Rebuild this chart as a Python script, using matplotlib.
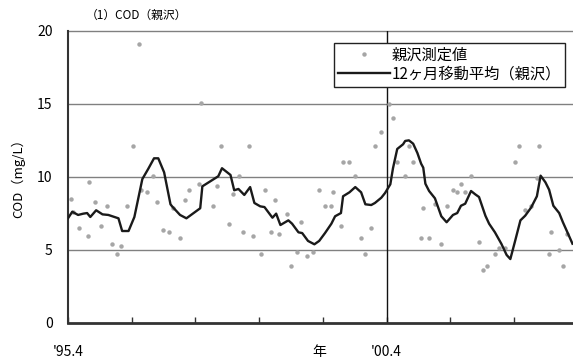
"""
COD (親沢) monthly values with 12-month moving average
"""
import matplotlib
matplotlib.use("Agg")
import matplotlib.pyplot as plt
import matplotlib.transforms as mtransforms

plt.rcParams['font.family'] = ['Noto Sans CJK JP', 'DejaVu Sans']

# months counted from '95.4
obs_month = [0.6, 1.0, 2.1, 3.7, 4.0, 5.1, 6.3, 7.4, 8.2, 9.3, 10.0, 11.2,
             12.3, 13.4, 13.8, 14.9, 16.1, 16.8, 17.9, 19.1, 19.8, 21.0, 22.1,
             22.8, 24.7, 25.1, 27.4, 28.1, 28.9, 30.4, 31.1, 32.2, 33.0, 34.1,
             34.9, 36.4, 37.1, 38.3, 39.0, 39.8, 41.3, 42.0, 43.2, 43.9, 45.1,
             46.2, 47.3, 48.4, 49.6, 49.9, 51.4, 51.8, 53.0, 54.1, 55.2, 56.0,
             57.1, 57.8, 59.0, 60.5, 61.2, 62.0, 63.5, 64.2, 65.0, 66.5, 66.9,
             68.0, 69.1, 70.3, 71.4, 72.5, 73.3, 74.0, 74.8, 75.9, 77.4, 78.2,
             78.9, 80.4, 81.2, 82.3, 84.2, 85.0, 86.1, 87.2, 88.3, 88.7, 90.6,
             91.0, 92.5, 93.2, 94.0]
obs_cod = [8.45, 7.6, 6.5, 5.96, 9.66, 8.3, 6.65, 8.0, 5.4, 4.73, 5.27, 8.0,
           12.1, 19.1, 9.1, 8.97, 10.07, 8.29, 6.37, 6.23, 7.88, 5.82, 8.42,
           9.11, 9.52, 15.03, 8.0, 9.38, 12.12, 6.78, 8.84, 10.07, 6.23, 12.1,
           5.96, 4.73, 9.11, 6.23, 8.42, 6.1, 7.47, 3.9, 4.86, 6.92, 4.59,
           4.86, 9.11, 8.0, 8.0, 8.97, 6.65, 11.03, 11.03, 10.07, 5.82, 4.73,
           6.51, 12.12, 13.08, 15.0, 14.04, 11.03, 10.07, 12.12, 11.03, 5.82,
           7.88, 5.82, 8.15, 5.41, 8.0, 9.11, 8.97, 9.52, 8.97, 10.07, 5.55,
           3.63, 3.9, 4.73, 5.14, 5.14, 11.03, 12.12, 7.74, 8.0, 9.93, 12.12,
           4.73, 6.23, 5.0, 3.9, 6.1]

ma_month = [0.0, 0.8, 1.9, 2.9, 3.6, 4.2, 5.3, 6.5, 7.6, 9.5, 10.2, 11.4,
            12.5, 14.0, 15.1, 16.2, 17.0, 18.1, 19.3, 19.6, 21.1, 22.3, 24.9,
            25.3, 28.3, 29.0, 30.6, 31.3, 32.1, 33.2, 34.3, 35.1, 36.2, 37.0,
            38.5, 39.2, 40.0, 41.5, 42.2, 43.4, 44.1, 45.2, 46.4, 47.3, 48.4,
            49.6, 50.3, 51.4, 51.8, 53.0, 54.1, 55.2, 56.0, 57.1, 57.8, 59.0,
            59.7, 60.7, 61.2, 62.0, 63.1, 63.5, 64.2, 65.0, 65.8, 66.5, 66.9,
            67.3, 68.0, 69.1, 70.3, 71.3, 72.5, 73.3, 74.0, 74.8, 75.9, 76.7,
            77.4, 78.6, 79.3, 80.4, 81.6, 82.6, 83.3, 84.2, 85.2, 86.1, 87.2,
            88.3, 89.0, 89.9, 90.6, 91.4, 92.5, 93.2, 94.0, 95.0]
ma_cod = [7.15, 7.6, 7.38, 7.47, 7.51, 7.24, 7.7, 7.42, 7.38, 7.15, 6.28, 6.28,
          7.24, 9.84, 10.53, 11.26, 11.26, 10.3, 8.11, 7.97, 7.38, 7.15, 7.84,
          9.34, 10.03, 10.58, 10.12, 9.07, 9.16, 8.75, 9.29, 8.2, 7.97, 7.92,
          7.19, 7.47, 6.69, 7.01, 6.78, 6.19, 6.14, 5.6, 5.37, 5.6, 6.14,
          6.78, 7.29, 7.51, 8.66, 8.93, 9.29, 8.93, 8.11, 8.06, 8.2, 8.56,
          8.88, 9.48, 10.58, 11.9, 12.22, 12.45, 12.49, 12.26, 11.62, 10.89,
          10.62, 9.52, 9.02, 8.52, 7.29, 6.88, 7.38, 7.51, 8.01, 8.15, 9.02,
          8.79, 8.61, 7.33, 6.78, 6.19, 5.41, 4.64, 4.36, 5.6, 7.01, 7.33,
          7.88, 8.66, 10.07, 9.62, 9.11, 8.01, 7.51, 6.88, 6.23, 5.41]

year_ticks = [0, 12, 24, 36, 48, 60, 72, 84]
label_pos = [0, 60]
label_txt = ["'95.4", "'00.4"]

fig = plt.figure(figsize=(5.73, 3.62), dpi=100)
ax = fig.add_axes([68 / 573, 1 - 322.7 / 362, 1 - 68 / 573, (322.7 - 30.7) / 362])

ax.set_xlim(0, 95.1)
ax.set_ylim(0, 20)
ax.set_yticks([0, 5, 10, 15, 20])
for yv in [5, 10, 15, 20]:
    ax.axhline(yv, color='#808080', lw=1.0, zorder=1, clip_on=False)
ax.axvline(60, color='#111111', lw=1.0, zorder=2)

ax.plot(obs_month, obs_cod, ls='none', marker='o', ms=3.2, mfc='#a6a6a6',
        mec='none', label='親沢測定値', zorder=3)
ax.plot(ma_month, ma_cod, color='#1a1a1a', lw=1.7,
        label='12ヶ月移動平均（親沢）', zorder=4)

for s in ['top', 'right']:
    ax.spines[s].set_visible(False)
ax.spines['left'].set_color('#333333')
ax.spines['left'].set_linewidth(1.5)
ax.spines['bottom'].set_color('#333333')
ax.spines['bottom'].set_linewidth(2.0)

ax.set_xticks(year_ticks)
ax.set_xticklabels([])
ax.tick_params(axis='x', direction='in', length=4, width=1, color='#333333')
ax.tick_params(axis='y', length=0, pad=11, labelsize=10)

trans = mtransforms.blended_transform_factory(ax.transData, ax.transAxes)
for p, t in zip(label_pos, label_txt):
    ax.text(p, -0.1, t, transform=trans, ha='center', va='center', fontsize=10)
ax.text(47.4, -0.1, '年', transform=trans, ha='center', va='center', fontsize=10)

fig.text(136 / 573, 1 - 15 / 362, '（1）COD（親沢）', ha='center', va='center',
         fontsize=8.5)
fig.text(18 / 573, 1 - 175 / 362, 'COD（mg/L）', rotation=90, ha='center',
         va='center', fontsize=9.5)

leg = ax.legend(loc='upper right', bbox_to_anchor=(0.984, 0.959),
                borderaxespad=0, fancybox=False, framealpha=1, fontsize=11,
                handlelength=3.4, borderpad=0.25, labelspacing=0.15,
                handletextpad=0.1)
leg.get_frame().set_edgecolor('#222222')
leg.get_frame().set_linewidth(1.0)

fig.savefig('out.png', dpi=100)
